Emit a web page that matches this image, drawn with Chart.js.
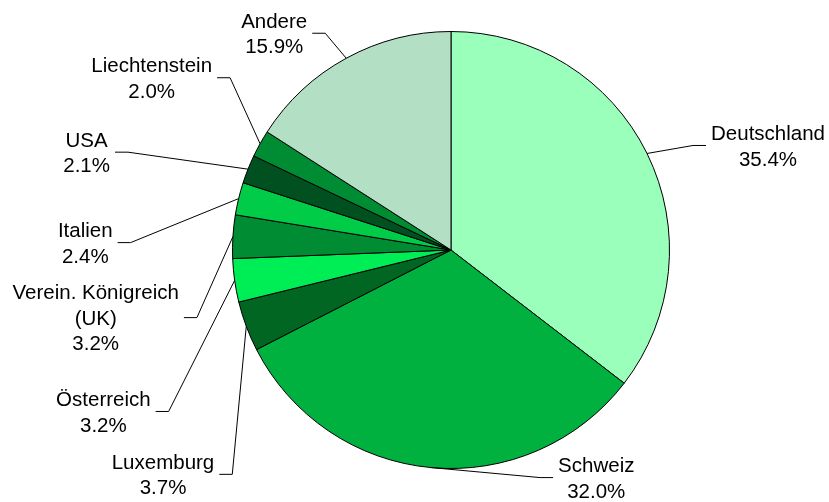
<!DOCTYPE html>
<html>
<head>
<meta charset="utf-8">
<script src="https://cdn.jsdelivr.net/npm/chart.js@4/dist/chart.umd.min.js"></script>
<style>
    html, body { margin: 0; padding: 0; background: #fff; }
    #wrap { width: 829px; height: 502px; position: relative; }
</style>
</head>
<body>
<div id="wrap"><canvas id="chartPie"></canvas></div>
<script>
const countries = ["Deutschland", "Schweiz", "Luxemburg", "Österreich", "Verein. Königreich\n(UK)", "Italien", "USA", "Liechtenstein", "Andere"];
const shares = [35.4, 32.0, 3.7, 3.2, 3.2, 2.4, 2.1, 2.0, 15.9];
const sliceColors = ["#99FFBB", "#00B140", "#006622", "#00EE55", "#008C33", "#00CC48", "#005020", "#008C33", "#B3DFC5"];

// elbow of each leader line, relative to the point on the rim at the slice middle
const leaderOffsets = [[46, -8], [109, 10], [-14, 148], [-66, 131], [-36, 81], [-108, 44], [-120, -17], [-30, -66], [-21, -25]];

const fontSize = 20.5;
const labelFont = fontSize + 'px "Liberation Sans", Arial, sans-serif';
const lineHeight = 25.5;

const leaderLabels = {
    id: "leaderLabels",
    afterDatasetsDraw(chart) {
        const ctx = chart.ctx;
        const meta = chart.getDatasetMeta(0);
        ctx.save();
        ctx.font = labelFont;
        ctx.fillStyle = "#000";
        ctx.strokeStyle = "#000";
        ctx.lineWidth = 1;
        ctx.textAlign = "center";
        ctx.textBaseline = "alphabetic";
        meta.data.forEach(function (arc, i) {
            const p = arc.getProps(["x", "y", "startAngle", "endAngle", "outerRadius"], true);
            const mid = (p.startAngle + p.endAngle) / 2;
            const ex = p.x + Math.cos(mid) * p.outerRadius;
            const ey = p.y + Math.sin(mid) * p.outerRadius;
            const [dx, dy] = leaderOffsets[i];
            const side = dx < 0 ? -1 : 1;
            const bx = ex + dx, by = ey + dy;
            const hx = bx + side * 13;

            ctx.beginPath();
            ctx.moveTo(ex, ey);
            ctx.lineTo(bx, by);
            ctx.lineTo(hx, by);
            ctx.stroke();

            const lines = countries[i].split("\n").concat([shares[i].toFixed(1) + "%"]);
            const w = Math.max.apply(null, lines.map(function (t) { return ctx.measureText(t).width; }));
            const cx = hx + side * (5 + w / 2);
            const top = by - (lines.length - 1) * lineHeight / 2 + fontSize * 0.36;
            lines.forEach(function (t, j) {
                ctx.fillText(t, cx, top + j * lineHeight);
            });
        });
        ctx.restore();
    }
};

document.addEventListener("DOMContentLoaded", function () {
    const data = {
        labels: countries,
        datasets: [
            {
                data: shares,
                backgroundColor: sliceColors,
                borderColor: "#000",
                borderWidth: 1,
            },
        ],
    };

    const config = {
        type: "pie",
        data: data,
        options: {
            responsive: true,
            maintainAspectRatio: false,
            animation: false,
            layout: {
                padding: { top: 31, bottom: 33, left: 232, right: 159 },
            },
            plugins: {
                legend: { display: false },
                tooltip: { enabled: false },
            },
        },
        plugins: [leaderLabels],
    };

    new Chart(document.getElementById("chartPie"), config);
});
</script>
</body>
</html>
